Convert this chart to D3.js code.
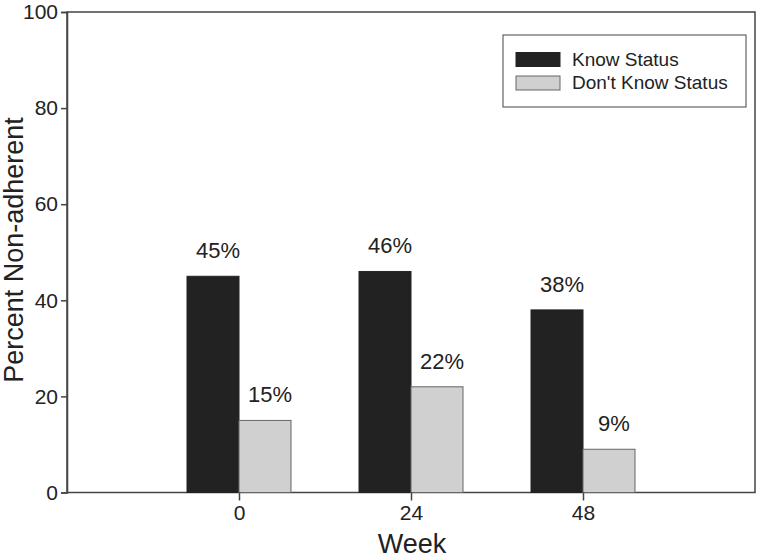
<!DOCTYPE html>
<html><head><meta charset="utf-8">
<script src="https://cdn.jsdelivr.net/npm/d3@7"></script>
<style>body{margin:0;background:#fff;} text{font-family:Arial,"Liberation Sans",sans-serif;fill:#222;}</style>
</head><body>
<svg id="c" width="760" height="559"></svg>
<script>
const weeks = ["0", "24", "48"];
const seriesNames = ["Know Status", "Don't Know Status"];
const knowStatus = [45, 46, 38];
const dontKnowStatus = [15, 22, 9];
const yTicks = [0, 20, 40, 60, 80, 100];
const colors = ["#222222", "#d0d0d0"];

const svg = d3.select("#c");
const L = 67, R = 755, T = 12, B = 492.5;
const x = d3.scalePoint().domain(weeks).range([L, R]).padding(1);
const y = d3.scaleLinear().domain([0, 100]).range([B, T]);
const barW = 52;
const FF = "Arial, Liberation Sans, sans-serif";

// frame
svg.append("rect").attr("x", L).attr("y", T).attr("width", R - L).attr("height", B - T)
  .attr("fill", "none").attr("stroke", "#444").attr("stroke-width", 1.5);

const data = [knowStatus, dontKnowStatus];
data.forEach((vals, si) => {
  svg.selectAll(".bar" + si).data(vals).enter().append("rect")
    .attr("x", (d, i) => x(weeks[i]) + (si === 0 ? -barW : 0))
    .attr("y", d => y(d))
    .attr("width", barW)
    .attr("height", d => B - y(d))
    .attr("fill", colors[si])
    .attr("stroke", si === 0 ? "#222" : "#666")
    .attr("stroke-width", 1);
  svg.selectAll(".lab" + si).data(vals).enter().append("text")
    .attr("x", (d, i) => x(weeks[i]) + (si === 0 ? -barW / 2 : barW / 2) + 5)
    .attr("y", d => y(d) - 18)
    .attr("text-anchor", "middle")
    .attr("font-size", 22)
    .text(d => d + "%");
});

// y axis
const yAxis = svg.append("g").attr("transform", `translate(${L},0)`)
  .call(d3.axisLeft(y).tickValues(yTicks).tickSize(6).tickPadding(3));
yAxis.select(".domain").attr("stroke", "#444").attr("stroke-width", 1.5);
yAxis.selectAll(".tick line").attr("stroke", "#444").attr("stroke-width", 1.5);
yAxis.selectAll(".tick text").attr("font-size", 21).attr("fill", "#222").attr("font-family", FF);

// x axis
const xAxis = svg.append("g").attr("transform", `translate(0,${B})`)
  .call(d3.axisBottom(x).tickSize(8).tickPadding(5));
xAxis.select(".domain").remove();
xAxis.selectAll(".tick line").attr("stroke", "#444").attr("stroke-width", 1.5);
xAxis.selectAll(".tick text").attr("font-size", 21).attr("fill", "#222").attr("font-family", FF);

// axis titles
svg.append("text").attr("x", 412).attr("y", 553).attr("text-anchor", "middle")
  .attr("font-size", 27).text("Week");
svg.append("text").attr("transform", "translate(23,250) rotate(-90)")
  .attr("text-anchor", "middle").attr("font-size", 27).text("Percent Non-adherent");

// legend
svg.append("rect").attr("x", 503).attr("y", 35).attr("width", 243).attr("height", 72)
  .attr("fill", "#fff").attr("stroke", "#444").attr("stroke-width", 1);
seriesNames.forEach((n, i) => {
  const yy = 52.5 + i * 23.5;
  svg.append("rect").attr("x", 516).attr("y", yy).attr("width", 44).attr("height", 14)
    .attr("fill", colors[i]).attr("stroke", i === 0 ? "#222" : "#666");
  svg.append("text").attr("x", 572).attr("y", yy + 13).attr("font-size", 19).text(n);
});
</script>
</body></html>
